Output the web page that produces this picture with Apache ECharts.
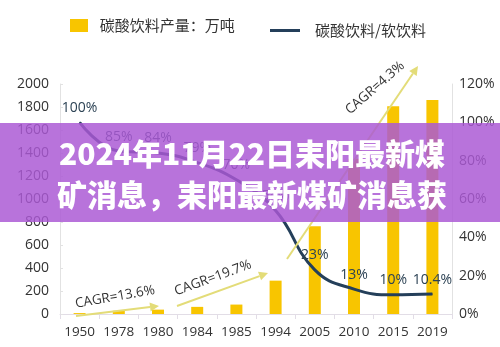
<!DOCTYPE html>
<html><head><meta charset="utf-8">
<script src="https://cdn.jsdelivr.net/npm/echarts@6/dist/echarts.min.js"></script>
<style>html,body{margin:0;padding:0;background:#fff}#c{width:500px;height:347px}</style>
</head><body><div id="c"></div>
<script>
const categories = ['1950','1978','1980','1984','1985','1994','2005','2010','2015','2019'];
const production = [8, 28, 38, 62, 82, 290, 763, 1350, 1807, 1860];
const ratio = [100, 85, 84, 79, 70, 54, 23, 13, 10, 10.4];
const ratioLabels = ['100%','85%','84%','79%','70%','54%','23%','13%','10%','10.4%'];
const barName = '碳酸饮料产量：万吨';
const lineName = '碳酸饮料/软饮料';
const titleLines = ['2024年11月22日耒阳最新煤', '矿消息，耒阳最新煤矿消息获'];
const cagrTexts = ['CAGR=13.6%', 'CAGR=19.7%', 'CAGR=4.3%'];

const numFont = '"Open Sans", "Noto Sans", sans-serif';
const cjkFont = '"Noto Sans CJK SC", "Noto Sans", sans-serif';
const arrowColor = '#e3dc78';

function arrow(x1, y1, x2, y2) {
  const a = Math.atan2(y2 - y1, x2 - x1), L = 9, W = 4.5;
  const bx = x2 - L * Math.cos(a), by = y2 - L * Math.sin(a);
  const px = -Math.sin(a) * W, py = Math.cos(a) * W;
  return [
    { type: 'polyline', z: 50, shape: { points: [[x1, y1], [bx, by]] }, style: { stroke: arrowColor, lineWidth: 2, fill: null } },
    { type: 'polygon', z: 50, shape: { points: [[x2, y2], [bx + px, by + py], [bx - px, by - py]] }, style: { fill: arrowColor } }
  ];
}
function rotText(t, x, y, deg) {
  return { type: 'text', z: 51, x: x, y: y, rotation: deg * Math.PI / 180,
    style: { text: t, fill: '#333', font: '13.5px ' + numFont, align: 'center', verticalAlign: 'middle' } };
}

const chart = echarts.init(document.getElementById('c'));
chart.setOption({
  animation: false,
  backgroundColor: '#fff',
  grid: { left: 60, right: 48, top: 84, bottom: 33 },
  legend: [
    { data: [barName], left: 65, top: 13, itemWidth: 18, itemHeight: 13, icon: 'rect',
      formatter: n => '  ' + n,
      textStyle: { fontSize: 15, color: '#333', fontFamily: cjkFont } },
    { data: [{ name: lineName, icon: 'rect' }], left: 265, top: 18, itemWidth: 30, itemHeight: 3,
      formatter: n => '   ' + n,
      textStyle: { fontSize: 15, color: '#333', fontFamily: cjkFont } }
  ],
  xAxis: {
    type: 'category', data: categories,
    axisLine: { lineStyle: { color: '#e2dde6' } },
    axisTick: { show: true, lineStyle: { color: '#e2dde6' } },
    axisLabel: { color: '#333', fontSize: 13.5, fontFamily: numFont, margin: 11, interval: 0 }
  },
  yAxis: [
    { type: 'value', min: 0, max: 2000, interval: 200,
      axisLine: { show: true, lineStyle: { color: '#e2e2e2' } },
      axisTick: { show: true, inside: true, length: 3, lineStyle: { color: '#e2e2e2' } },
      splitLine: { show: false },
      axisLabel: { color: '#333', fontSize: 14, fontFamily: numFont, margin: 11, formatter: v => String(v) } },
    { type: 'value', min: 0, max: 120, interval: 20, position: 'right',
      axisLine: { show: true, lineStyle: { color: '#e2e2e2' } },
      axisTick: { show: false },
      splitLine: { show: false },
      axisLabel: { color: '#333', fontSize: 14, fontFamily: numFont, margin: 7, formatter: '{value}%' } }
  ],
  series: [
    { name: barName, type: 'bar', data: production, barWidth: 12,
      itemStyle: { color: '#f8c500' } },
    { name: lineName, type: 'line', yAxisIndex: 1, data: ratio, smooth: 0.45,
      symbol: 'circle', symbolSize: 1, z: 5,
      lineStyle: { color: '#243f5a', width: 3 },
      itemStyle: { color: '#243f5a' },
      label: { show: true, position: 'top', distance: 7, color: '#2c4254', fontSize: 14, fontFamily: numFont,
        formatter: p => ratioLabels[p.dataIndex] } }
  ],
  graphic: [
    ...arrow(76, 316, 159, 306),
    ...arrow(177, 306, 268, 273),
    ...arrow(287, 259, 418, 66),
    rotText(cagrTexts[0], 115, 297, 10),
    rotText(cagrTexts[1], 213, 278, 20),
    rotText(cagrTexts[2], 375, 88, 41),
    { type: 'rect', z: 100, shape: { x: 0, y: 123, width: 500, height: 99 },
      style: { fill: 'rgba(170, 88, 212, 0.84)' } },
    { type: 'text', z: 101, x: 252, y: 154,
      style: { text: titleLines[0], fill: '#fff', font: '900 30px ' + cjkFont, align: 'center', verticalAlign: 'middle' } },
    { type: 'text', z: 101, x: 252, y: 195,
      style: { text: titleLines[1], fill: '#fff', font: '900 30px ' + cjkFont, align: 'center', verticalAlign: 'middle' } }
  ]
});
</script></body></html>
